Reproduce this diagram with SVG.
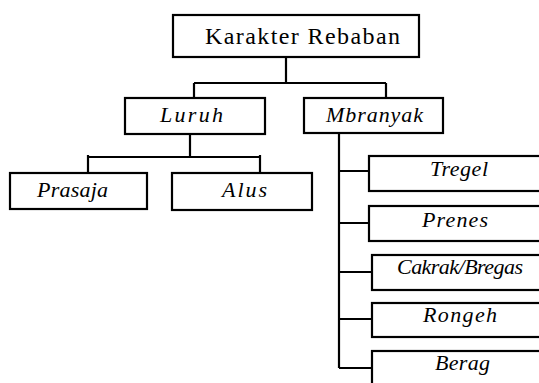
<svg xmlns="http://www.w3.org/2000/svg" width="539" height="383" viewBox="0 0 539 383">
<style>
.box{fill:#fff;stroke:#000;stroke-width:2.2}
.ln{fill:none;stroke:#000;stroke-width:2.2}
text{font-family:"Liberation Serif","DejaVu Serif",serif;fill:#000}
.it{font-style:italic;font-size:22px}
</style>
<rect width="539" height="383" fill="#fff"/>
<g id="connectors">
<path class="ln" d="M286 57V83M194 83H386M194 83V98M386 83V98"/>
<path class="ln" d="M190 134V157M88 157H260M88 155V173M260 155V173"/>
<path class="ln" d="M339 133V368M339 171H369M339 223H369M339 272H372M339 319H372M339 368H372"/>
</g>
<g id="karakter"><rect class="box" x="173" y="15" width="246" height="42"/><text x="205" y="44" font-size="24" textLength="195" lengthAdjust="spacing">Karakter Rebaban</text></g>
<g id="luruh"><rect class="box" x="125" y="98" width="140" height="36"/><text class="it" x="160" y="122" textLength="63" lengthAdjust="spacing">Luruh</text></g>
<g id="mbranyak"><rect class="box" x="304" y="98" width="139" height="35"/><text class="it" x="326" y="122" textLength="97" lengthAdjust="spacing">Mbranyak</text></g>
<g id="prasaja"><rect class="box" x="10" y="173" width="137" height="36"/><text class="it" x="37" y="197" textLength="71" lengthAdjust="spacing">Prasaja</text></g>
<g id="alus"><rect class="box" x="172" y="173" width="140" height="37"/><text class="it" x="222" y="197" textLength="45" lengthAdjust="spacing">Alus</text></g>
<g id="tregel"><rect class="box" x="369" y="156" width="180" height="35"/><text class="it" x="430" y="176" textLength="58" lengthAdjust="spacing">Tregel</text></g>
<g id="prenes"><rect class="box" x="369" y="206" width="180" height="35"/><text class="it" x="422" y="227" textLength="66" lengthAdjust="spacing">Prenes</text></g>
<g id="cakrak"><rect class="box" x="372" y="255" width="180" height="35"/><text class="it" x="397" y="274" font-size="19" textLength="126" lengthAdjust="spacing">Cakrak/Bregas</text></g>
<g id="rongeh"><rect class="box" x="372" y="303" width="180" height="34"/><text class="it" x="423" y="322" textLength="74" lengthAdjust="spacing">Rongeh</text></g>
<g id="berag"><rect class="box" x="372" y="351" width="180" height="40"/><text class="it" x="435" y="370" textLength="55" lengthAdjust="spacing">Berag</text></g>
</svg>
